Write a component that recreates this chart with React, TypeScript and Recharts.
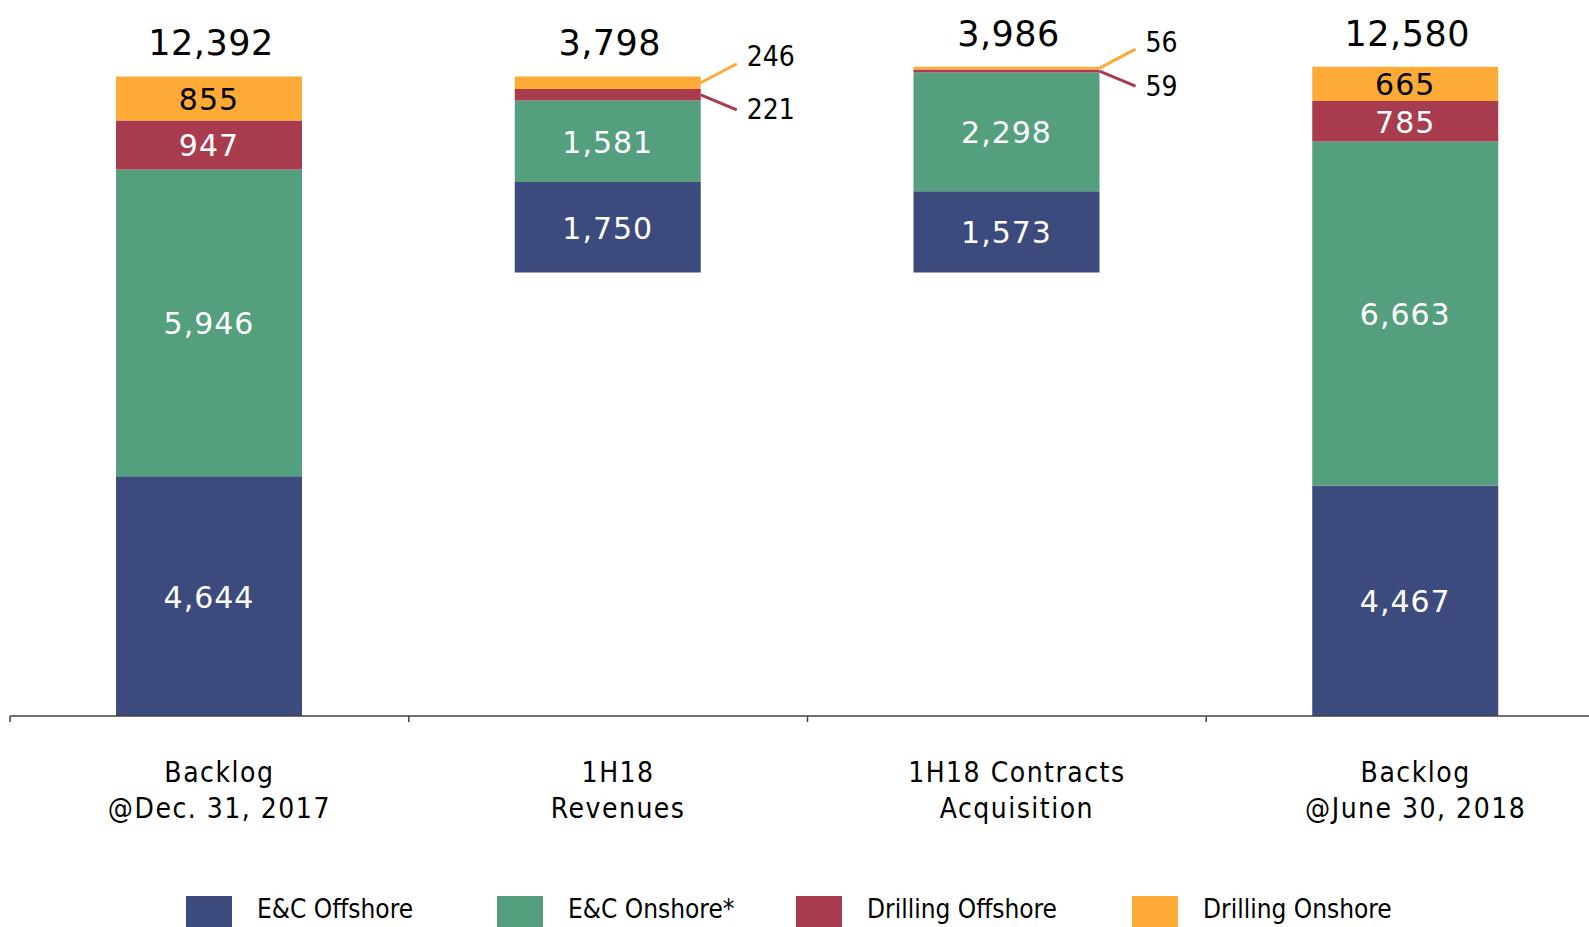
import { BarChart, Bar, XAxis, YAxis, LabelList } from "recharts";

const categories = ["Backlog\n@Dec. 31, 2017", "1H18\nRevenues", "1H18 Contracts\nAcquisition", "Backlog\n@June 30, 2018"];
const base             = [0, 8594, 8594, 0];
const ecOffshore       = [4644, 1750, 1573, 4467];
const ecOnshore        = [5946, 1581, 2298, 6663];
const drillingOffshore = [947, 221, 59, 785];
const drillingOnshore  = [855, 246, 56, 665];

const series = [
  { key: "ecOffshore",       name: "E&C Offshore",      color: "#3D4A7E", text: "#fff" },
  { key: "ecOnshore",        name: "E&C Onshore*",      color: "#549F7E", text: "#fff" },
  { key: "drillingOffshore", name: "Drilling Offshore", color: "#A93B4F", text: "#fff" },
  { key: "drillingOnshore",  name: "Drilling Onshore",  color: "#FDAB36", text: "#000" },
];

const data = categories.map((name, i) => ({
  name,
  base: base[i],
  ecOffshore: ecOffshore[i],
  ecOnshore: ecOnshore[i],
  drillingOffshore: drillingOffshore[i],
  drillingOnshore: drillingOnshore[i],
  total: ecOffshore[i] + ecOnshore[i] + drillingOffshore[i] + drillingOnshore[i],
}));

const W = 1610;
const H = 927;
const AXIS_H = 30;
const M = { top: 45, right: 5, bottom: H - 716 - AXIS_H, left: 10 };
const BAND = (W - M.left - M.right) / categories.length;
const LEGEND_ITEM_W = [311, 299, 336, 300];

const fmt = (n: number) => n.toLocaleString("en-US");
const SANS = "DejaVu Sans";
const COND = "DejaVu Sans Condensed";

// small segments of the floating bars get a leader line and an outside label
const isCallout = (key: string, index: number) =>
  (key === "drillingOffshore" || key === "drillingOnshore") && (index === 1 || index === 2);

function segLabel(s: (typeof series)[number]) {
  return (p: any) => {
    const { x, y, width, height, value, index } = p;
    if (isCallout(s.key, index)) {
      const sx = x + width;
      const sy = y + height / 2;
      const up = s.key === "drillingOnshore";
      const ex = sx + 36;
      const ey = up ? sy - 19 : sy + 15;
      return (
        <g>
          <line x1={sx} y1={sy} x2={ex} y2={ey} stroke={s.color} strokeWidth={3} />
          <text x={ex + 10} y={up ? ey - 7 : ey} dominantBaseline="central" fontFamily={COND} fontSize={28} fill="#000">
            {fmt(value)}
          </text>
        </g>
      );
    }
    return (
      <text x={x + width / 2} y={y + height / 2 + 1} textAnchor="middle" dominantBaseline="central"
        fontFamily={SANS} fontSize={30} fill={s.text} letterSpacing={1}>
        {fmt(value)}
      </text>
    );
  };
}

function TotalLabel(p: any) {
  const { x, y, width, value } = p;
  return (
    <text x={x + width / 2 + 2} y={y - 33} textAnchor="middle" dominantBaseline="central"
      fontFamily={SANS} fontSize={35} fill="#000" letterSpacing={0.5}>
      {fmt(value)}
    </text>
  );
}

function CategoryTick(p: any) {
  const { x, y, payload } = p;
  const lines = String(payload.value).split("\n");
  return (
    <g>
      <line x1={x - BAND / 2} y1={y} x2={x - BAND / 2} y2={y + 6} stroke="#404040" strokeWidth={1.5} />
      {lines.map((l, i) => (
        <text key={i} x={x + 10} y={y + 66 + i * 36} textAnchor="middle"
          fontFamily={COND} fontSize={28} letterSpacing={1.5} fill="#000">
          {l}
        </text>
      ))}
    </g>
  );
}

function ChartLegend() {
  return (
    <div style={{ position: "absolute", left: 186, top: 896, display: "flex", alignItems: "flex-start" }}>
      {series.map((s, i) => (
        <div key={s.key} style={{ display: "flex", alignItems: "flex-start", width: LEGEND_ITEM_W[i] }}>
          <div style={{ width: 46, height: 46, background: s.color, flex: "none" }} />
          <span style={{ marginLeft: 25, fontFamily: COND, fontSize: 26, lineHeight: "26px", color: "#000", whiteSpace: "nowrap" }}>
            {s.name}
          </span>
        </div>
      ))}
    </div>
  );
}

export default function App() {
  return (
    <div style={{ position: "fixed", left: 0, top: 0, width: 1589, height: 927, overflow: "hidden", background: "#fff" }}>
      <BarChart width={W} height={H} data={data} margin={M} barSize={186}>
        <XAxis
          dataKey="name"
          height={AXIS_H}
          interval={0}
          tick={<CategoryTick />}
          tickLine={false}
          tickSize={0}
          tickMargin={0}
          axisLine={{ stroke: "#404040", strokeWidth: 1.5 }}
        />
        <YAxis hide domain={[0, 13000]} />
        <Bar dataKey="base" stackId="a" fill="transparent" isAnimationActive={false} legendType="none" />
        {series.map((s) => (
          <Bar key={s.key} dataKey={s.key} name={s.name} stackId="a" fill={s.color} isAnimationActive={false}>
            <LabelList dataKey={s.key} content={segLabel(s)} />
            {s.key === "drillingOnshore" && <LabelList dataKey="total" content={<TotalLabel />} />}
          </Bar>
        ))}
      </BarChart>
      <ChartLegend />
    </div>
  );
}
